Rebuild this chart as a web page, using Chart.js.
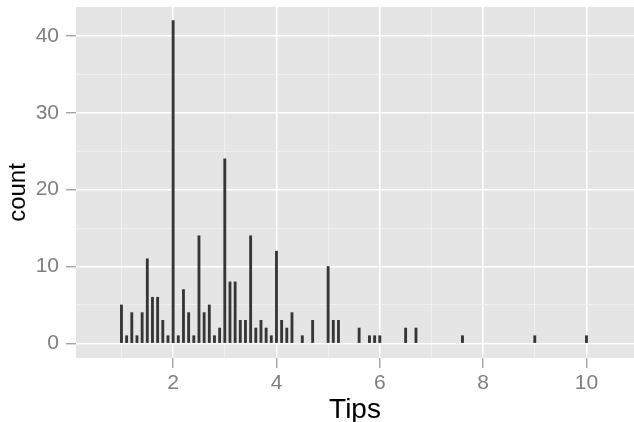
<!DOCTYPE html>
<html>
    <head>
        <meta charset="UTF-8">
        <script src="https://cdn.jsdelivr.net/npm/chart.js@4/dist/chart.umd.min.js"></script>
        <title> Tips histogram </title>
        <style>
            html, body { margin: 0; padding: 0; background: #ffffff; }
            #wrap { width: 634px; height: 422px; }
        </style>
    </head>

    <body>
        <div id="wrap">
            <canvas id="main-plot"></canvas>
        </div>

        <script>
            // bin centres (binwidth 0.1) and counts
            const tips = [1.0, 1.1, 1.2, 1.3, 1.4, 1.5, 1.6, 1.7, 1.8, 1.9,
                          2.0, 2.1, 2.2, 2.3, 2.4, 2.5, 2.6, 2.7, 2.8, 2.9,
                          3.0, 3.1, 3.2, 3.3, 3.4, 3.5, 3.6, 3.7, 3.8, 3.9,
                          4.0, 4.1, 4.2, 4.3, 4.5, 4.7,
                          5.0, 5.1, 5.2, 5.6, 5.8, 5.9, 6.0, 6.5, 6.7,
                          7.6, 9.0, 10.0];
            const counts = [5, 1, 4, 1, 4, 11, 6, 6, 3, 1,
                            42, 1, 7, 4, 1, 14, 4, 5, 1, 2,
                            24, 8, 8, 3, 3, 14, 2, 3, 2, 1,
                            12, 3, 2, 4, 1, 3,
                            10, 3, 3, 2, 1, 1, 1, 2, 2,
                            1, 1, 1];

            const xTicks = [1, 2, 3, 4, 5, 6, 7, 8, 9, 10];
            const yTicks = [0, 5, 10, 15, 20, 25, 30, 35, 40];

            const tickGrey = '#7f7f7f';

            // grey panel behind the grid, like ggplot
            const panelBg = {
                id: 'panelBg',
                beforeDraw(chart) {
                    const { ctx, chartArea: a } = chart;
                    ctx.save();
                    ctx.fillStyle = '#e5e5e5';
                    ctx.fillRect(a.left, a.top, a.right - a.left, a.bottom - a.top);
                    ctx.restore();
                }
            };

            const plot = new Chart(document.getElementById('main-plot'), {
                type: 'bar',
                data: {
                    datasets: [{
                        data: tips.map((t, i) => ({ x: t, y: counts[i] })),
                        backgroundColor: '#363636',
                        borderWidth: 0,
                        barThickness: 2.2
                    }]
                },
                options: {
                    animation: false,
                    responsive: true,
                    maintainAspectRatio: false,
                    layout: { padding: { top: 7, right: 0, bottom: 0, left: 0 } },
                    plugins: { legend: { display: false }, tooltip: { enabled: false } },
                    scales: {
                        x: {
                            type: 'linear',
                            min: 0.12,
                            max: 10.92,
                            offset: false,
                            afterBuildTicks: s => { s.ticks = xTicks.map(v => ({ value: v })); },
                            afterFit: s => { s.height = 64; s.paddingLeft = 0; s.paddingRight = 0; },
                            border: { display: false },
                            grid: {
                                offset: false,
                                color: c => c.tick && c.tick.value % 2 === 0 ? '#ffffff' : '#f2f2f2',
                                lineWidth: c => c.tick && c.tick.value % 2 === 0 ? 1.6 : 0.8,
                                tickColor: c => c.tick && c.tick.value % 2 === 0 ? tickGrey : 'rgba(0,0,0,0)',
                                tickLength: 10,
                                tickWidth: 1
                            },
                            ticks: {
                                color: tickGrey,
                                font: { family: 'Liberation Sans', size: 21 },
                                padding: 3,
                                maxRotation: 0,
                                autoSkip: false,
                                callback: v => v % 2 === 0 ? String(v) : ''
                            },
                            title: {
                                display: true,
                                text: 'Tips',
                                color: '#000000',
                                font: { family: 'Liberation Sans', size: 28, lineHeight: 0.84 },
                                padding: 0
                            }
                        },
                        y: {
                            type: 'linear',
                            min: -1.9,
                            max: 43.75,
                            afterBuildTicks: s => { s.ticks = yTicks.map(v => ({ value: v })); },
                            afterFit: s => { s.width = 76; s.paddingTop = 0; s.paddingBottom = 0; },
                            border: { display: false },
                            grid: {
                                color: c => c.tick && c.tick.value % 10 === 0 ? '#ffffff' : '#f2f2f2',
                                lineWidth: c => c.tick && c.tick.value % 10 === 0 ? 1.6 : 0.8,
                                tickColor: c => c.tick && c.tick.value % 10 === 0 ? tickGrey : 'rgba(0,0,0,0)',
                                tickLength: 10,
                                tickWidth: 1
                            },
                            ticks: {
                                color: tickGrey,
                                font: { family: 'Liberation Sans', size: 21 },
                                padding: 7,
                                autoSkip: false,
                                callback: v => v % 10 === 0 ? String(v) : ''
                            },
                            title: {
                                display: true,
                                // trailing spaces nudge the rotated title down a little
                                text: 'count   ',
                                color: '#000000',
                                font: { family: 'Liberation Sans', size: 24, lineHeight: 1.2 },
                                padding: { top: 4, bottom: 0 }
                            }
                        }
                    }
                },
                plugins: [panelBg]
            });
        </script>
    </body>
</html>
